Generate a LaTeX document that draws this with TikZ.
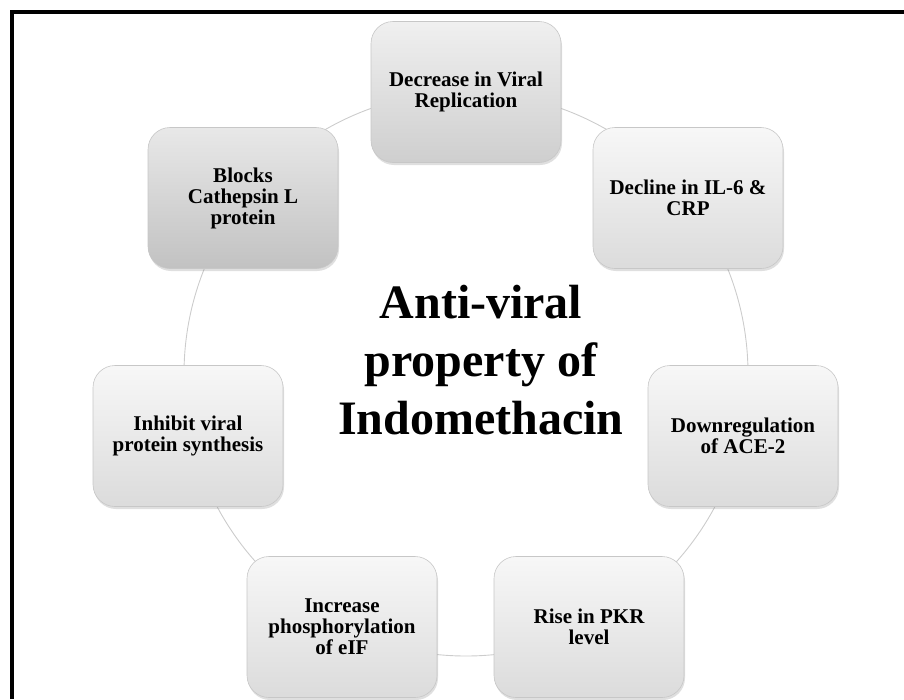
\documentclass[tikz,border=0pt]{standalone}
\usepackage{fontspec}
\setmainfont{Liberation Serif}
\usetikzlibrary{shadows}

\begin{document}
\begin{tikzpicture}[x=1pt, y=-1pt]
\tikzstyle{main}=[rectangle, rounded corners=22pt, minimum width=190pt, minimum height=141pt, draw=black!22, line width=0.6pt, top color=black!3, bottom color=black!14, drop shadow={shadow xshift=1pt, shadow yshift=-2.5pt, opacity=0.25}, align=center, font=\bfseries\fontsize{21}{21}\selectfont]
\tikzstyle{dark}=[top color=black!9, bottom color=black!24]
\tikzstyle{mid}=[top color=black!6, bottom color=black!19]
\tikzstyle{ring}=[draw=black!20, line width=0.9pt]
\tikzstyle{title}=[align=center, font=\bfseries\fontsize{48}{58}\selectfont]

  \useasboundingbox (0,0) rectangle (904,699);

    % frame, only top and left edges show
  \draw[line width=3.6pt] (11.8,699) -- (11.8,11.8) -- (904,11.8);

    % the ring behind the boxes
  \coordinate (hub) at (466,374);
  \draw[ring] (hub) circle (282);

    % boxes on the ring
  \node[main, mid] (replication) at (466,92) {Decrease in Viral\\Replication};
  \node[main] (il6) at (688,198) {Decline in IL-6 \&\\CRP};
  \node[main] (ace2) at (743,436) {Downregulation\\of ACE-2};
  \node[main] (pkr) at (589,627) {Rise in PKR\\level};
  \node[main] (eif) at (342,627) {Increase\\phosphorylation\\of eIF};
  \node[main] (synthesis) at (188,436) {Inhibit viral\\protein synthesis};
  \node[main, dark] (cathepsin) at (243,198) {Blocks\\Cathepsin L\\protein};

    % title in the middle
  \node[title] (property) at (481,360) {Anti-viral\\property of\\Indomethacin};

\end{tikzpicture}
\end{document}
